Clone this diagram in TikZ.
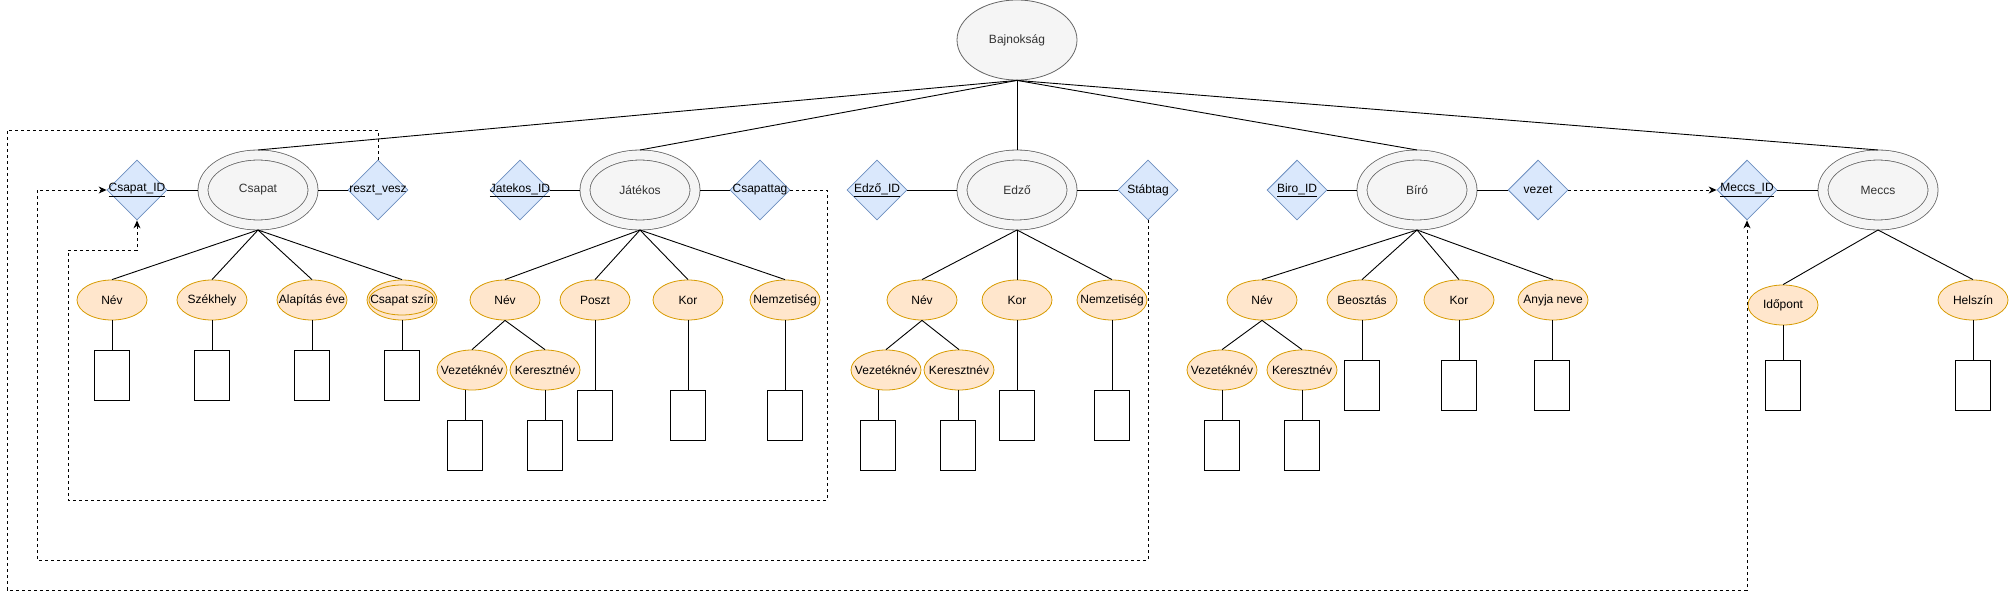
\documentclass[tikz,border=0pt]{standalone}
\usepackage{fontspec}
\setmainfont{Liberation Sans}
\usetikzlibrary{arrows.meta, positioning, shapes.geometric}

\definecolor{entityFill}{HTML}{F5F5F5}
\definecolor{entityDraw}{HTML}{666666}
\definecolor{entityText}{HTML}{333333}
\definecolor{attrFill}{HTML}{FFE6CC}
\definecolor{attrDraw}{HTML}{D79B00}
\definecolor{keyFill}{HTML}{DAE8FC}
\definecolor{keyDraw}{HTML}{6C8EBF}

\begin{document}
\begin{tikzpicture}[
        x=1pt, y=-1pt,
        flatText/.style={
            execute at begin node={\hbox to 0pt\bgroup\hss},
            execute at end node={\hss\egroup},
            font=\fontsize{12}{14}\selectfont
        },
        rootNode/.style={
            ellipse, flatText,
            fill=entityFill,
            draw=entityDraw,
            line width=0.8pt,
            minimum width=120pt,
            minimum height=80pt,
            inner sep=0pt,
            text=entityText
        },
        entityNode/.style={
            ellipse, flatText,
            fill=entityFill,
            draw=entityDraw,
            line width=0.8pt,
            double=entityFill,
            double distance=9.2pt,
            minimum width=110pt,
            minimum height=70pt,
            inner sep=0pt,
            outer sep=5pt,
            text=entityText
        },
        attrNode/.style={
            ellipse, flatText,
            fill=attrFill,
            draw=attrDraw,
            line width=0.8pt,
            minimum width=70pt,
            minimum height=40pt,
            inner sep=0pt
        },
        keyNode/.style={
            diamond, flatText,
            fill=keyFill,
            draw=keyDraw,
            line width=0.8pt,
            minimum width=60pt,
            minimum height=60pt,
            inner sep=0pt
        },
        valueBox/.style={
            draw=black,
            fill=white,
            line width=0.9pt,
            minimum width=35pt,
            minimum height=50pt,
            inner sep=0pt
        },
        link/.style={
            line width=0.9pt,
            draw=black
        },
        fkLink/.style={
            -{Stealth[length=8pt, width=7pt]},
            line width=0.9pt,
            dashed,
            draw=black
        }
    ]

        \useasboundingbox (0,0) rectangle (2009,599);

        % Root and entities
        \node[rootNode] (liga) at (1017,40) {Bajnokság};
        \node[entityNode] (csapat) at (258,190) {Csapat};
        \node[entityNode] (jatekos) at (640,190) {Játékos};
        \node[entityNode] (edzo) at (1017,190) {Edző};
        \node[entityNode] (biro) at (1417,190) {Bíró};
        \node[entityNode] (meccs) at (1878,190) {Meccs};

        \foreach \ent in {csapat,jatekos,edzo,biro,meccs}
        {
            \draw[link] (liga.south) -- (\ent.north);
        }

        % Keys and relations
        \node[keyNode] (csapatId) at (137,190) {\underline{Csapat\_ID}};
        \node[keyNode] (csReszt) at (378,190) {reszt\_vesz};
        \node[keyNode] (jatekosId) at (520,190) {\underline{Jatekos\_ID}};
        \node[keyNode] (jCsapattag) at (760,190) {Csapattag};
        \node[keyNode] (edzoId) at (877,190) {\underline{Edző\_ID}};
        \node[keyNode] (eStabtag) at (1148,190) {Stábtag};
        \node[keyNode] (biroId) at (1297,190) {\underline{Biro\_ID}};
        \node[keyNode] (bVezet) at (1538,190) {vezet};
        \node[keyNode] (meccsId) at (1747,190) {\underline{Meccs\_ID}};

        \draw[link] (csapatId) -- (csapat);
        \draw[link] (csapat) -- (csReszt);
        \draw[link] (jatekosId) -- (jatekos);
        \draw[link] (jatekos) -- (jCsapattag);
        \draw[link] (edzoId) -- (edzo);
        \draw[link] (edzo) -- (eStabtag);
        \draw[link] (biroId) -- (biro);
        \draw[link] (biro) -- (bVezet);
        \draw[link] (meccsId) -- (meccs);

        % Attributes
        \node[attrNode] (cNev) at (112,300) {Név};
        \node[attrNode] (cSzekhely) at (212,300) {Székhely};
        \node[attrNode] (cAlapitas) at (312,300) {Alapítás éve};
        \node[attrNode] (cSzin) at (402,300) {Csapat szín};
        \draw[draw=attrDraw, line width=0.8pt]
            (cSzin.center) ellipse [x radius=33pt, y radius=15pt];

        \node[attrNode] (jNev) at (505,300) {Név};
        \node[attrNode] (jPoszt) at (595,300) {Poszt};
        \node[attrNode] (jKor) at (688,300) {Kor};
        \node[attrNode] (jNemz) at (785,300) {Nemzetiség};
        \node[attrNode] (jVez) at (472,370) {Vezetéknév};
        \node[attrNode] (jKer) at (545,370) {Keresztnév};

        \node[attrNode] (eNev) at (922,300) {Név};
        \node[attrNode] (eKor) at (1017,300) {Kor};
        \node[attrNode] (eNemz) at (1112,300) {Nemzetiség};
        \node[attrNode] (eVez) at (886,370) {Vezetéknév};
        \node[attrNode] (eKer) at (959,370) {Keresztnév};

        \node[attrNode] (bNev) at (1262,300) {Név};
        \node[attrNode] (bBeo) at (1362,300) {Beosztás};
        \node[attrNode] (bKor) at (1459,300) {Kor};
        \node[attrNode] (bAnyja) at (1553,300) {Anyja neve};
        \node[attrNode] (bVez) at (1222,370) {Vezetéknév};
        \node[attrNode] (bKer) at (1302,370) {Keresztnév};

        \node[attrNode] (mIdo) at (1783,305) {Időpont};
        \node[attrNode] (mHely) at (1973,300) {Helszín};

        \foreach \a in {cNev,cSzekhely,cAlapitas,cSzin}
            \draw[link] (csapat.south) -- (\a.north);
        \foreach \a in {jNev,jPoszt,jKor,jNemz}
            \draw[link] (jatekos.south) -- (\a.north);
        \foreach \a in {eNev,eKor,eNemz}
            \draw[link] (edzo.south) -- (\a.north);
        \foreach \a in {bNev,bBeo,bKor,bAnyja}
            \draw[link] (biro.south) -- (\a.north);
        \foreach \a in {mIdo,mHely}
            \draw[link] (meccs.south) -- (\a.north);

        \draw[link] (jNev.south) -- (jVez.north);
        \draw[link] (jNev.south) -- (jKer.north);
        \draw[link] (eNev.south) -- (eVez.north);
        \draw[link] (eNev.south) -- (eKer.north);
        \draw[link] (bNev.south) -- (bVez.north);
        \draw[link] (bNev.south) -- (bKer.north);

        % Value boxes
        \foreach \a/\x/\y in {
            cNev/112/375, cSzekhely/212/375, cAlapitas/312/375, cSzin/402/375,
            jVez/465/445, jKer/545/445, jPoszt/595/415, jKor/688/415, jNemz/785/415,
            eVez/878/445, eKer/958/445, eKor/1017/415, eNemz/1112/415,
            bVez/1222/445, bKer/1302/445, bBeo/1362/385, bKor/1459/385, bAnyja/1552/385,
            mIdo/1783/385, mHely/1973/385}
        {
            \node[valueBox] (\a Box) at (\x,\y) {};
            \draw[link] (\a Box.north) -- (\a Box.north |- \a.south);
        }

        % Foreign key references
        \coordinate (outerTop) at (7,130);
        \coordinate (outerBottom) at (7,590);
        \coordinate (middleBottom) at (37,560);
        \coordinate (innerBottom) at (827,500);
        \coordinate (innerBend) at (68,250);

        \draw[fkLink] (csReszt.north) |- (outerTop) -- (outerBottom) -| (meccsId.south);
        \draw[fkLink] (eStabtag.south) |- (middleBottom) |- (csapatId.west);
        \draw[fkLink] (jCsapattag.east) -| (innerBottom) -| (innerBend) -| (csapatId.south);
        \draw[fkLink] (bVezet) -- (meccsId);

    \end{tikzpicture}
\end{document}
